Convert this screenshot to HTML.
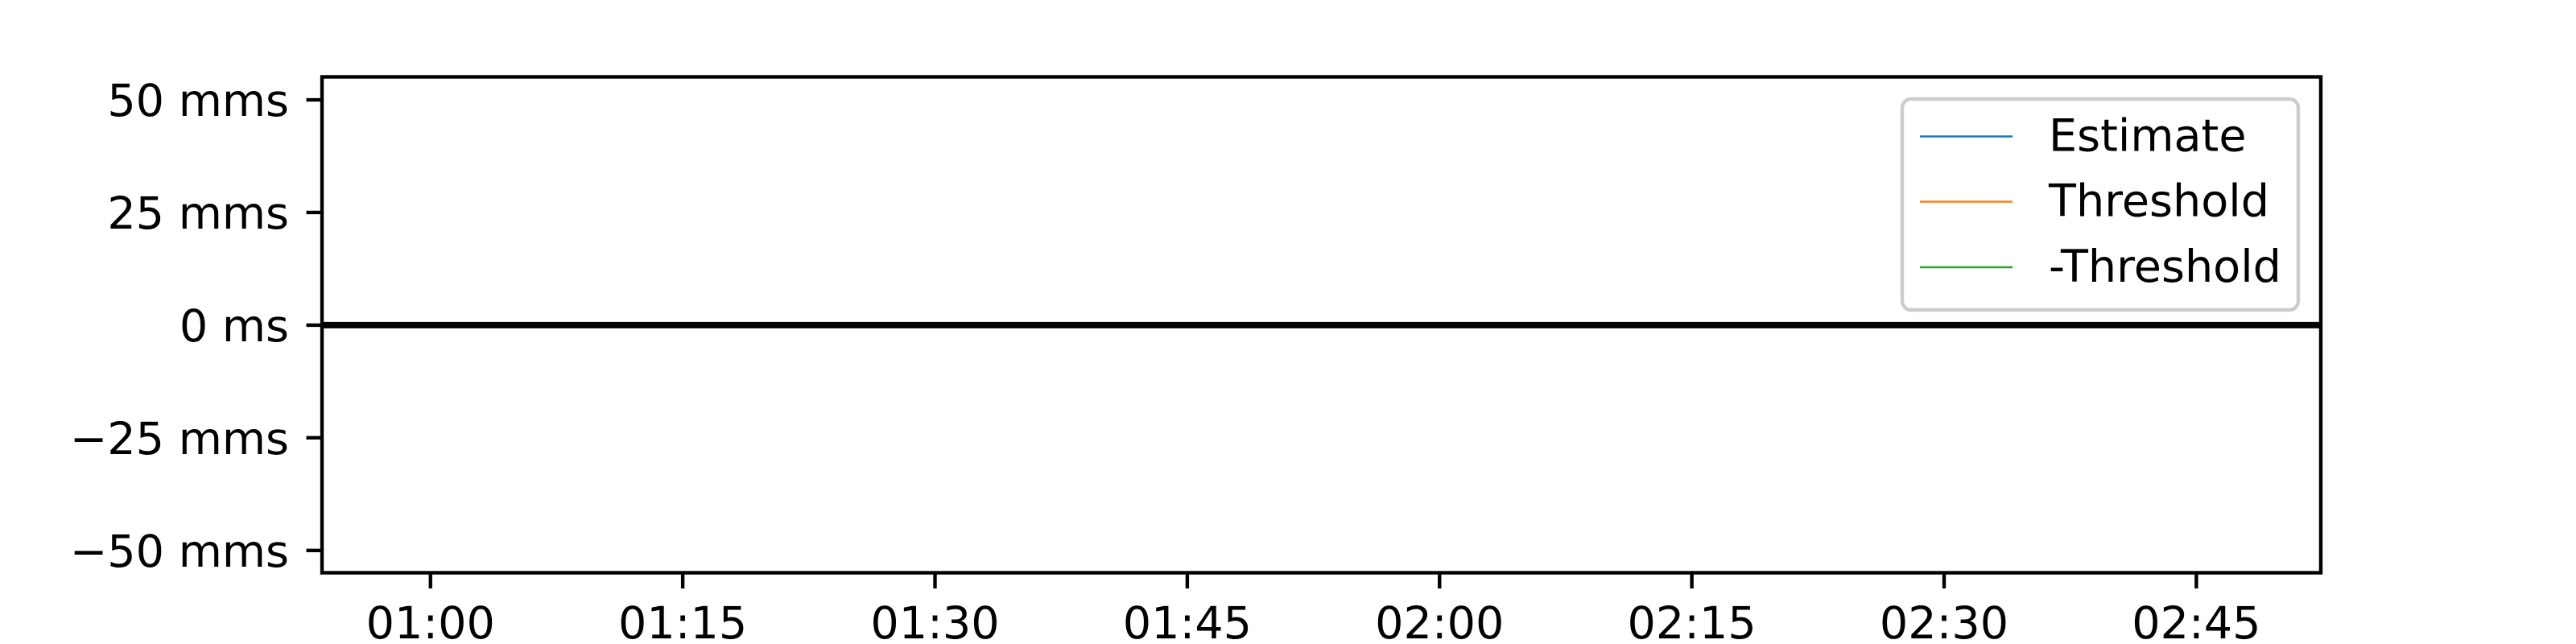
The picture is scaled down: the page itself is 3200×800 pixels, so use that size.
<!DOCTYPE html>
<html><head><meta charset="utf-8"><style>
html,body{margin:0;padding:0;background:#fff;}
svg{display:block;font-family:"DejaVu Sans","Liberation Sans",sans-serif;}
</style></head><body>
<svg id="chart" width="3200" height="800" viewBox="0 0 3200 800" xmlns="http://www.w3.org/2000/svg">
<rect x="0" y="0" width="3200" height="800" fill="#fff"/>
<g id="plot"></g>
</svg>
<script>
// data (minutes since 00:00)
const xTickMinutes = [60, 75, 90, 105, 120, 135, 150, 165];
const xTickLabels = ["01:00","01:15","01:30","01:45","02:00","02:15","02:30","02:45"];
const yTickValues = [50, 25, 0, -25, -50];
const yTickLabels = ["50 mms","25 mms","0 ms","\u221225 mms","\u221250 mms"];
const estimateTimes = [];
const estimateValues = [];
const thresholdTimes = [];
const thresholdValues = [];
const negThresholdTimes = [];
const negThresholdValues = [];
const referenceLevel = 0;

const NS = "http://www.w3.org/2000/svg";
const L = 400, R = 2883, T = 95.5, B = 711.5;
const xMin = 53.55, xMax = 172.4, yMin = -54.95, yMax = 55.1;
function xs(m){ return L + (m - xMin) / (xMax - xMin) * (R - L); }
function ys(v){ return T + (yMax - v) / (yMax - yMin) * (B - T); }
const g = document.getElementById('plot');
function mk(tag, attrs){ const e = document.createElementNS(NS, tag); for (const k in attrs) e.setAttribute(k, attrs[k]); return e; }

// clip for series
const defs = mk('defs', {});
const cp = mk('clipPath', {id:'clip'});
cp.appendChild(mk('rect', {x:L, y:T, width:R-L, height:B-T}));
defs.appendChild(cp); g.appendChild(defs);

function drawSeries(ts, vs, color, name){
  if (!ts.length) return;
  const pts = ts.map((t,i)=>xs(t).toFixed(1)+','+ys(vs[i]).toFixed(1)).join(' ');
  const pl = mk('polyline', {points:pts, fill:'none', stroke:color, 'stroke-width':2.5, 'clip-path':'url(#clip)'});
  
  
  g.appendChild(pl);
}
drawSeries(estimateTimes, estimateValues, '#1f77b4', 'estimate-line');
drawSeries(thresholdTimes, thresholdValues, '#ff7f0e', 'threshold-line');
drawSeries(negThresholdTimes, negThresholdValues, '#2ca02c', 'neg-threshold-line');

// zero reference line
const zl = mk('line', {x1:L, x2:R, y1:ys(referenceLevel), y2:ys(referenceLevel), stroke:'#000', 'stroke-width':8});


g.appendChild(zl);

// y ticks
yTickValues.forEach((v,i)=>{
  const y = ys(v);
  const t = mk('line', {x1:L-19.5, x2:L, y1:y, y2:y, stroke:'#000', 'stroke-width':4.4});
  
  
  g.appendChild(t);
  const tx = mk('text', {x:359, y:y+20, 'text-anchor':'end', 'font-size':55.6, fill:'#000'});
  tx.textContent = yTickLabels[i];
  
  
  g.appendChild(tx);
});
// x ticks
xTickMinutes.forEach((m,i)=>{
  const x = xs(m);
  const t = mk('line', {x1:x, x2:x, y1:B, y2:B+19.5, stroke:'#000', 'stroke-width':4.4});
  
  
  g.appendChild(t);
  const tx = mk('text', {x:x, y:793, 'text-anchor':'middle', 'font-size':55.6, fill:'#000'});
  tx.textContent = xTickLabels[i];
  
  
  g.appendChild(tx);
});

// spines
const fr = mk('rect', {x:L, y:T, width:R-L, height:B-T, fill:'none', stroke:'#000', 'stroke-width':4.4});


g.appendChild(fr);

// legend
const lg = mk('g', {});


g.appendChild(lg);
const lb = mk('rect', {x:2363, y:123, width:492, height:262, rx:11, fill:'#fff', 'fill-opacity':0.8, stroke:'#cccccc', 'stroke-width':4.4});


lg.appendChild(lb);
const legendNames = ["Estimate","Threshold","-Threshold"];
const legendColors = ['#1f77b4','#ff7f0e','#2ca02c'];
const legendY = [169.5, 250.5, 332];
legendNames.forEach((n,i)=>{
  const ln = mk('line', {x1:2385, x2:2500, y1:legendY[i], y2:legendY[i], stroke:legendColors[i], 'stroke-width':2.5});
  
  
  lg.appendChild(ln);
  const tx = mk('text', {x:2545, y:legendY[i]+18, 'font-size':55.6, fill:'#000'});
  tx.textContent = n;
  
  
  lg.appendChild(tx);
});
</script>
</body></html>
